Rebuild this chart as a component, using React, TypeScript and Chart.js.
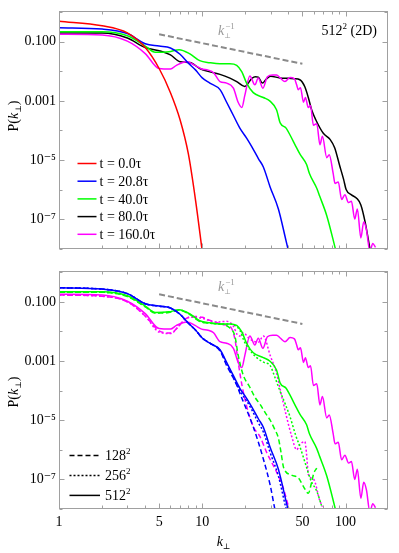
import React, { useEffect, useRef } from "react";
import { Chart, registerables } from "chart.js";
Chart.register(...registerables);

const FONT = '"Liberation Serif", "DejaVu Serif", serif';
const FRAME = "#a0a0a0";
const FS = 14;

// ---- axis ticks ----
const xLabelTicks = [1, 5, 10, 50, 100];
const xAllTicks = [1, 2, 3, 4, 5, 6, 7, 8, 9, 10, 20, 30, 40, 50, 60, 70, 80, 90, 100];
const yLabelTicks = [0.1, 0.001, 1e-5, 1e-7];
const yLabelTexts = ["0.100", "0.001", "10⁻⁵", "10⁻⁷"];
const yAllTicks = [1, 0.1, 0.01, 0.001, 1e-4, 1e-5, 1e-6, 1e-7, 1e-8];

// ---- top panel: 512^2 runs at different times ----
const redK = [1, 2, 3, 4, 5, 6, 7, 8, 9, 10];
const redP = [0.5, 0.35, 0.2, 0.064, 0.0125, 0.0019, 2.3e-4, 1.6e-5, 4e-7, 8e-9];

const blueK = [1, 2, 3, 4, 5, 6, 7, 8, 9, 10, 11.3, 13.3, 14.8, 16.5, 18.3, 20.4, 22, 24.7, 26.7, 29.8, 34, 38.5, 41];
const blueP = [0.3, 0.27, 0.19, 0.086, 0.072, 0.062, 0.038, 0.019, 0.011, 0.006, 0.004, 0.0024, 9e-4, 3.2e-4, 1.2e-4, 5.5e-5, 3e-5, 1.1e-5, 5.8e-6, 1.2e-6, 2.2e-7, 1.8e-8, 5e-9];

const greenK = [1, 2, 3, 4, 4.7, 5.85, 6.9, 8.2, 9.6, 11.3, 13.3, 15.6, 17.4, 18.9, 20.4, 22.7, 26.7, 29.6, 33, 35, 38.5, 41, 45.5, 48, 53.5, 56, 63, 66, 74, 84.5, 88];
const greenP = [0.22, 0.22, 0.16, 0.072, 0.044, 0.046, 0.054, 0.039, 0.023, 0.0196, 0.018, 0.018, 0.016, 0.0096, 0.004, 0.0019, 0.0013, 0.001, 5e-4, 1.8e-4, 1.2e-4, 7e-5, 2.6e-5, 1.6e-5, 7e-6, 3.5e-6, 1.1e-6, 6e-7, 1.3e-7, 1.1e-8, 5e-9];

const blackK = [1, 2, 3, 4, 5, 6, 7, 8.2, 9.6, 11.3, 13.3, 15.6, 17.4, 19.8, 22.2, 23.5, 24.6, 26.3, 28, 30, 34.8, 40, 44, 48, 52, 55, 58, 62, 70, 78, 84, 91, 97, 101, 110, 120, 128, 137, 148, 152];
const blackP = [0.2, 0.2, 0.135, 0.064, 0.05, 0.036, 0.021, 0.02, 0.0125, 0.0096, 0.0079, 0.0059, 0.0045, 0.0031, 0.0058, 0.0066, 0.0064, 0.004, 0.0055, 0.0068, 0.006, 0.0058, 0.0056, 0.0052, 0.003, 0.0013, 5e-4, 2.3e-4, 8e-5, 5e-5, 2.6e-5, 6.5e-6, 2.2e-6, 1e-6, 6.6e-7, 5e-7, 3e-7, 8e-8, 1e-8, 5e-9];

const magK = [1, 2, 3, 4, 5, 6, 6.6, 7.8, 8.9, 9.9, 11, 12, 13.3, 14.8, 16.5, 17.8, 18.9, 19.8, 21.5, 23.3, 24.6, 26.5, 28.5, 31, 33, 35, 37.8, 41, 44, 45.6, 46.8, 48.5, 50.9, 52.5, 55, 57, 59.7, 63, 66.3, 69, 74, 77, 82, 84.5, 89, 94, 99, 105, 110, 116, 121, 128, 134, 140, 148, 155, 162];
const magP = [0.18, 0.17, 0.105, 0.04, 0.0125, 0.012, 0.016, 0.021, 0.016, 0.012, 0.011, 0.009, 0.0045, 0.004, 0.0027, 9e-4, 6e-4, 0.0015, 0.007, 0.0035, 0.0059, 0.0027, 0.0066, 0.0075, 0.0075, 0.006, 0.0045, 0.0062, 0.0056, 0.0035, 0.0024, 0.0028, 9e-4, 0.0013, 6e-4, 7e-4, 1.5e-4, 1.7e-4, 3.3e-5, 6.3e-5, 1.2e-5, 1.5e-5, 3.5e-6, 1.6e-6, 1.8e-6, 4.6e-7, 6.6e-7, 3.6e-7, 4e-7, 1e-7, 2.2e-7, 2.3e-8, 8e-8, 4.4e-8, 8e-9, 1.5e-8, 1.1e-8];

// ---- bottom panel: resolution comparison ----
const blue128K = [1, 2, 3, 4, 5, 6, 7, 8, 9, 10, 11.3, 13.3, 14.8, 16.9, 19.2, 22.7, 26.7, 29.8, 32, 34];
const blue128P = [0.3, 0.27, 0.19, 0.086, 0.072, 0.062, 0.038, 0.019, 0.011, 0.006, 0.004, 0.0022, 7e-4, 2.1e-4, 4.6e-5, 6e-6, 4.9e-7, 6.4e-8, 1.1e-8, 3e-9];
const blue256K = [1, 2, 3, 4, 5, 6, 7, 8, 9, 10, 11.3, 13.3, 14.8, 16.5, 18.3, 20.4, 22, 24.7, 26.7, 29.8, 34, 38, 40];
const blue256P = [0.3, 0.27, 0.19, 0.086, 0.072, 0.062, 0.038, 0.019, 0.011, 0.006, 0.004, 0.0023, 8e-4, 2.7e-4, 1e-4, 4.5e-5, 2.4e-5, 8e-6, 4e-6, 8e-7, 1.3e-7, 1.3e-8, 5e-9];
const green128K = [1, 2, 3, 4, 4.7, 5.85, 6.9, 8.2, 9.6, 11.3, 13.3, 15.6, 16.9, 17.8, 19.3, 21.5, 23.3, 25.3, 27.5, 29.8, 32, 34, 35.5, 37, 42, 47, 51, 55, 58, 60, 63];
const green128P = [0.21, 0.21, 0.15, 0.068, 0.042, 0.044, 0.052, 0.037, 0.022, 0.019, 0.018, 0.013, 0.007, 0.0016, 3.4e-4, 1.3e-4, 6e-5, 3.5e-5, 1.8e-5, 1e-5, 5e-6, 2.5e-6, 8e-7, 2.5e-7, 1.4e-7, 1.1e-7, 5.6e-8, 3.4e-8, 8e-8, 1.6e-7, 2.4e-7];
const green256K = [1, 2, 3, 4, 4.7, 5.85, 6.9, 8.2, 9.6, 11.3, 13.3, 15.6, 16.5, 18.3, 19.5, 20.4, 24, 27, 29.8, 32, 34.8, 38, 41, 45, 48, 52.5, 57.6, 63, 68];
const green256P = [0.21, 0.21, 0.155, 0.07, 0.043, 0.045, 0.053, 0.038, 0.022, 0.019, 0.018, 0.018, 0.017, 0.011, 0.005, 0.0033, 0.0013, 9e-4, 7e-4, 3e-4, 1e-4, 3.5e-5, 1.3e-5, 3e-6, 1.3e-6, 3.4e-7, 8.7e-8, 4e-8, 1.3e-8];
const mag128K = [1, 2, 3, 4, 5, 6, 7, 7.6, 8.5, 10, 11, 12, 14, 15.6, 16.9, 17.8, 18.9, 20.4, 22.7, 25.3, 28.2, 33, 36.8, 40, 42];
const mag128P = [0.17, 0.155, 0.1, 0.033, 0.0105, 0.0088, 0.017, 0.026, 0.032, 0.03, 0.025, 0.022, 0.017, 0.015, 0.0055, 9.4e-4, 1.6e-4, 3e-5, 6e-6, 2.8e-6, 8e-7, 1.8e-7, 5e-8, 1.2e-8, 5e-9];
const mag256K = [1, 2, 3, 4, 5, 6, 7, 7.6, 8.5, 10, 11, 12, 13, 14.8, 16.5, 17.5, 18.3, 19.3, 21.5, 24.6, 26.7, 29.8, 33, 34.8, 38.5, 42, 45.6, 48, 52, 53.5, 55, 60, 66, 69];
const mag256P = [0.17, 0.155, 0.1, 0.033, 0.0095, 0.0085, 0.017, 0.026, 0.03, 0.028, 0.024, 0.021, 0.021, 0.022, 0.015, 0.008, 0.007, 0.009, 0.0055, 0.0043, 0.007, 0.00155, 3.9e-4, 1.25e-4, 1.5e-5, 3e-6, 1e-6, 1.5e-6, 1.9e-6, 7e-7, 1.5e-7, 1e-7, 2e-8, 1.2e-8];

// ---- k^-1 reference line ----
const refK = [5, 50];
const refP = [0.18, 0.018];

// ---- legends ----
const topLegendLabels = ["t = 0.0τ", "t = 20.8τ", "t = 40.0τ", "t = 80.0τ", "t = 160.0τ"];
const topLegendColors = ["#ff0000", "#0000ff", "#00ff00", "#000000", "#ff00ff"];
const botLegendLabels = ["128²", "256²", "512²"];
const DASH128 = [5, 3];
const DASH256 = [2, 2];
const botLegendDashes = [DASH128, DASH256, []];

const pts = (k: number[], p: number[]) => k.map((x, i) => ({ x, y: p[i] }));

function series(k: number[], p: number[], color: string, dash: number[] = []) {
  return {
    data: pts(k, p),
    borderColor: color,
    borderWidth: 1.5,
    borderDash: dash,
    pointRadius: 0,
    fill: false,
    cubicInterpolationMode: "monotone",
  };
}

function refSeries() {
  return {
    data: pts(refK, refP),
    borderColor: "#8a8a8a",
    borderWidth: 2,
    borderDash: [6, 3],
    pointRadius: 0,
    fill: false,
  };
}

type Part = { t: string; f: string; dy?: number };
function drawRich(ctx: CanvasRenderingContext2D, parts: Part[], x: number, y: number, center: boolean) {
  let w = 0;
  for (const p of parts) {
    ctx.font = p.f;
    w += ctx.measureText(p.t).width;
  }
  let cx = center ? x - w / 2 : x;
  for (const p of parts) {
    ctx.font = p.f;
    ctx.fillText(p.t, cx, y + (p.dy || 0));
    cx += ctx.measureText(p.t).width;
  }
}

function makeScales(showX: boolean) {
  return {
    x: {
      type: "logarithmic",
      min: 1,
      max: 198,
      grid: { display: false, drawTicks: false, tickLength: 0 },
      border: { display: false },
      afterBuildTicks: (s: any) => {
        s.ticks = xLabelTicks.map((v) => ({ value: v }));
      },
      ticks: {
        display: showX,
        autoSkip: false,
        maxRotation: 0,
        padding: 5,
        color: "#000",
        font: { family: FONT, size: FS },
        callback: (_v: any, i: number) => String(xLabelTicks[i]),
      },
      afterFit: (s: any) => {
        s.height = showX ? 44 : 0;
      },
    },
    y: {
      type: "logarithmic",
      min: 1e-8,
      max: 1.07,
      grid: { display: false, drawTicks: false, tickLength: 0 },
      border: { display: false },
      afterBuildTicks: (s: any) => {
        s.ticks = yLabelTicks.map((v) => ({ value: v }));
      },
      ticks: {
        autoSkip: false,
        padding: 3,
        color: "#000",
        font: { family: FONT, size: FS },
        callback: (_v: any, i: number) => yLabelTexts[i],
      },
      afterFit: (s: any) => {
        s.width = 59;
      },
    },
  };
}

function framePlugin(cfg: { yTitleY: number; xTitle: boolean; top: boolean }) {
  return {
    id: "frameDeco",
    afterDatasetsDraw(chart: any) {
      const { ctx, chartArea: a, scales } = chart;
      const L = Math.round(a.left) + 0.5;
      const R = Math.round(a.right) - 0.5;
      const T = Math.round(a.top) + 0.5;
      const B = Math.round(a.bottom) - 0.5;
      ctx.save();
      ctx.strokeStyle = FRAME;
      ctx.lineWidth = 1;
      ctx.setLineDash([]);
      ctx.strokeRect(L, T, R - L, B - T);
      ctx.beginPath();
      for (const v of xAllTicks) {
        const px = Math.round(scales.x.getPixelForValue(v)) + 0.5;
        const len = xLabelTicks.includes(v) ? 5 : 3;
        ctx.moveTo(px, B);
        ctx.lineTo(px, B - len);
        ctx.moveTo(px, T);
        ctx.lineTo(px, T + len);
      }
      for (const v of yAllTicks) {
        const py = Math.round(scales.y.getPixelForValue(v)) + 0.5;
        const len = yLabelTicks.includes(v) ? 5 : 3;
        ctx.moveTo(L, py);
        ctx.lineTo(L + len, py);
        ctx.moveTo(R, py);
        ctx.lineTo(R - len, py);
      }
      ctx.stroke();

      // y title P(k⊥)
      ctx.fillStyle = "#000";
      ctx.textBaseline = "alphabetic";
      ctx.textAlign = "left";
      ctx.save();
      ctx.translate(18, cfg.yTitleY);
      ctx.rotate(-Math.PI / 2);
      drawRich(
        ctx,
        [
          { t: "P(", f: `${FS}px ${FONT}` },
          { t: "k", f: `italic ${FS}px ${FONT}` },
          { t: "⊥", f: `8px ${FONT}`, dy: 3 },
          { t: ")", f: `${FS}px ${FONT}` },
        ],
        0,
        0,
        true
      );
      ctx.restore();

      // x title k⊥
      if (cfg.xTitle) {
        const cx = (a.left + a.right) / 2;
        drawRich(
          ctx,
          [
            { t: "k", f: `italic ${FS}px ${FONT}` },
            { t: "⊥", f: `8px ${FONT}`, dy: 3 },
          ],
          cx,
          a.bottom + 37,
          true
        );
      }

      // k⊥^-1 annotation
      const ax = 218;
      const ay = a.top + (cfg.top ? 24 : 20);
      ctx.fillStyle = "#9a9a9a";
      ctx.font = `italic ${FS}px ${FONT}`;
      ctx.fillText("k", ax, ay);
      const kw = ctx.measureText("k").width;
      ctx.font = `9px ${FONT}`;
      ctx.fillText("−1", ax + kw + 1, ay - 6);
      ctx.font = `7px ${FONT}`;
      ctx.fillText("⊥", ax + kw, ay + 3);

      // panel tag
      if (cfg.top) {
        ctx.fillStyle = "#000";
        ctx.textAlign = "right";
        ctx.font = `${FS}px ${FONT}`;
        const txt = " (2D)";
        const w1 = ctx.measureText(txt).width;
        const rx = a.right - 11;
        ctx.fillText(txt, rx, a.top + 24);
        ctx.textAlign = "left";
        ctx.font = `${FS}px ${FONT}`;
        const w512 = ctx.measureText("512").width;
        ctx.font = `9px ${FONT}`;
        const w2 = ctx.measureText("2").width;
        const sx = rx - w1 - w2 - w512;
        ctx.font = `${FS}px ${FONT}`;
        ctx.fillText("512", sx, a.top + 24);
        ctx.font = `9px ${FONT}`;
        ctx.fillText("2", sx + w512, a.top + 18);
      }

      // legend
      ctx.textAlign = "left";
      ctx.textBaseline = "middle";
      ctx.lineWidth = 1.5;
      if (cfg.top) {
        topLegendLabels.forEach((lab, i) => {
          const y = 163.5 + i * 17.7;
          ctx.strokeStyle = topLegendColors[i];
          ctx.setLineDash([]);
          ctx.beginPath();
          ctx.moveTo(77.5, y);
          ctx.lineTo(96.5, y);
          ctx.stroke();
          ctx.fillStyle = "#000";
          ctx.font = `${FS}px ${FONT}`;
          ctx.fillText(lab, 99.5, y + 1);
        });
      } else {
        botLegendLabels.forEach((lab, i) => {
          const y = a.top + 184 + i * 20;
          ctx.strokeStyle = "#000";
          ctx.setLineDash(botLegendDashes[i]);
          ctx.beginPath();
          ctx.moveTo(69.5, y);
          ctx.lineTo(100, y);
          ctx.stroke();
          ctx.setLineDash([]);
          ctx.fillStyle = "#000";
          const base = lab.slice(0, 3);
          ctx.font = `${FS}px ${FONT}`;
          ctx.fillText(base, 105, y + 1);
          const bw = ctx.measureText(base).width;
          ctx.font = `9px ${FONT}`;
          ctx.fillText("2", 105 + bw, y - 4);
        });
      }
      ctx.restore();
    },
  };
}

export default function App() {
  const topRef = useRef<HTMLCanvasElement>(null);
  const botRef = useRef<HTMLCanvasElement>(null);

  useEffect(() => {
    const common = {
      responsive: false,
      animation: false,
      devicePixelRatio: 1,
      plugins: { legend: { display: false }, tooltip: { enabled: false } },
      elements: { line: { tension: 0 } },
    };
    const topChart = new Chart(topRef.current as HTMLCanvasElement, {
      type: "line",
      data: {
        datasets: [
          series(redK, redP, topLegendColors[0]),
          series(blueK, blueP, topLegendColors[1]),
          series(greenK, greenP, topLegendColors[2]),
          series(magK, magP, topLegendColors[4]),
          series(blackK, blackP, topLegendColors[3]),
          refSeries(),
        ] as any,
      },
      options: {
        ...common,
        layout: { padding: { left: 0, right: 11, top: 9, bottom: 6 } },
        scales: makeScales(false) as any,
      } as any,
      plugins: [framePlugin({ yTitleY: 116, xTitle: false, top: true })],
    });
    const botChart = new Chart(botRef.current as HTMLCanvasElement, {
      type: "line",
      data: {
        datasets: [
          series(blueK, blueP, topLegendColors[1]),
          series(blue256K, blue256P, topLegendColors[1], DASH256),
          series(blue128K, blue128P, topLegendColors[1], DASH128),
          series(greenK, greenP, topLegendColors[2]),
          series(green256K, green256P, topLegendColors[2], DASH256),
          series(green128K, green128P, topLegendColors[2], DASH128),
          series(magK, magP, topLegendColors[4]),
          series(mag256K, mag256P, topLegendColors[4], DASH256),
          series(mag128K, mag128P, topLegendColors[4], DASH128),
          refSeries(),
        ] as any,
      },
      options: {
        ...common,
        layout: { padding: { left: 0, right: 11, top: 6, bottom: 0 } },
        scales: makeScales(true) as any,
      } as any,
      plugins: [framePlugin({ yTitleY: 132, xTitle: true, top: false })],
    });
    return () => {
      topChart.destroy();
      botChart.destroy();
    };
  }, []);

  return (
    <div style={{ position: "absolute", left: 0, top: 0, width: 399, height: 553, background: "#fff" }}>
      <canvas
        ref={topRef}
        width={399}
        height={260}
        style={{ position: "absolute", left: 0, top: 0, width: 399, height: 260, display: "block" }}
      />
      <canvas
        ref={botRef}
        width={399}
        height={293}
        style={{ position: "absolute", left: 0, top: 260, width: 399, height: 293, display: "block" }}
      />
    </div>
  );
}
